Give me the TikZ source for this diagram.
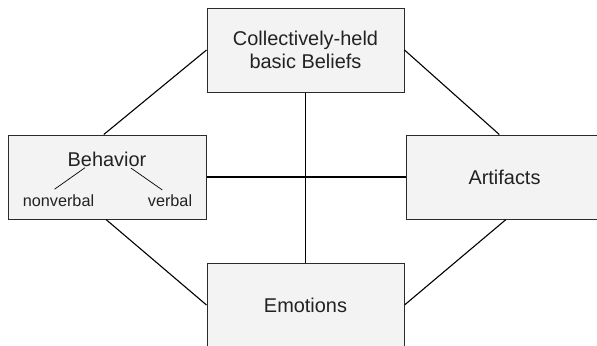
\documentclass[tikz,border=0pt]{standalone}
\usepackage{fontspec}
\setmainfont{Liberation Sans}
\usetikzlibrary{calc}
\definecolor{boxfill}{HTML}{F3F3F3}
\definecolor{boxline}{HTML}{2B2B2B}
\definecolor{inktext}{HTML}{222222}
\tikzset{
  basic/.style = {draw=boxline, fill=boxfill, line width=1bp, rectangle,
                  minimum width=197bp, minimum height=84bp, inner sep=0pt,
                  text=inktext, font=\fontsize{20}{23.5}\selectfont, align=center},
  label/.style = {inner sep=0pt, text=inktext, anchor=base},
  sub/.style   = {label, font=\fontsize{16.3}{19}\selectfont},
  link/.style  = {draw=black, line width=1.1bp}
}
\begin{document}
\begin{tikzpicture}[x=1bp, y=-1bp]
\useasboundingbox (0,0) rectangle (597,345);

% the four boxes
\node[basic] (beliefs) at (305.5,50) {Collectively-held\\basic Beliefs};
\node[basic] (behaviorbox) at (107.5,177) {};
\node[basic] (artifacts) at (504.5,177) {Artifacts};
\node[basic] (emotions) at (305.5,305) {Emotions};

% inside the behavior box
\node[label, font=\fontsize{20}{23.5}\selectfont] (behavior) at (107,166.7) {Behavior};
\node[sub] (nonverbal) at (58.5,206.7) {nonverbal};
\node[sub] (verbal) at (170,206.7) {verbal};
\draw[line width=0.7bp] ($(behavior.south)+(-22,0.6)$) -- ($(nonverbal.north)+(-4,-5.5)$);
\draw[line width=0.7bp] ($(behavior.south)+(24,1)$) -- ($(verbal.north)+(-7.7,-4.8)$);

% cross in the middle
\draw[link] (beliefs.south) -- (emotions.north);
\draw[link] (behaviorbox.east) -- (artifacts.west);

% the outer ring
\draw[link] (beliefs.west) -- (behaviorbox.95);
\draw[link] (beliefs.east) -- (artifacts.97);
\draw[link] (behaviorbox.-92) -- (emotions.west);
\draw[link] (emotions.east) -- (artifacts.-88);
\end{tikzpicture}
\end{document}
